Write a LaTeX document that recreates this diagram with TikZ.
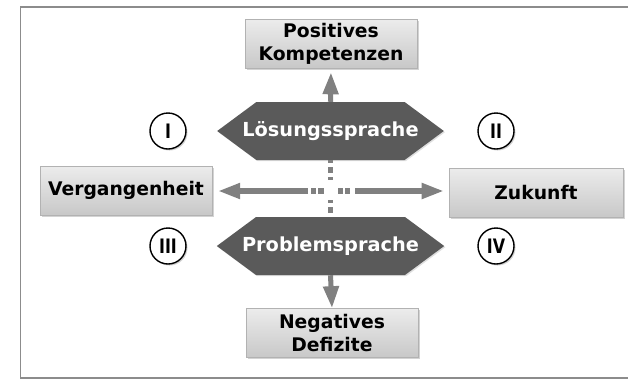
\documentclass[tikz,border=0pt]{standalone}
\usepackage{fontspec}
\setmainfont{DejaVu Sans}
\newfontfamily\romfont[FakeStretch=0.8]{DejaVu Sans}
\usetikzlibrary{arrows.meta, positioning, calc, shadows, shapes.symbols}
\newlength{\pxu}
\setlength{\pxu}{0.03cm}
\definecolor{sdark}{HTML}{5A5A5A}
\definecolor{sgray}{HTML}{808080}
\definecolor{sframe}{HTML}{8C8C8C}
\definecolor{boxtop}{HTML}{ECECEC}
\definecolor{boxbot}{HTML}{C8C8C8}
\tikzset{
  >=Latex,
  font=\fontsize{16}{19.5}\selectfont\bfseries,
  tile/.style={
    draw=black!30, line width=0.5pt, top color=boxtop, bottom color=boxbot,
    minimum width=172\pxu, minimum height=49\pxu, align=center, inner sep=0pt,
    drop shadow={shadow xshift=1.3pt, shadow yshift=-1.3pt, opacity=0.35}
  },
  lang/.style={
    signal, signal to=west and east, signal pointer angle=73,
    fill=sdark, text=white, inner ysep=0pt, inner xsep=-14\pxu,
    font=\fontsize{16.5}{19.5}\selectfont\bfseries,
    minimum width=100\pxu, minimum height=58\pxu,
    drop shadow={shadow xshift=1pt, shadow yshift=-1pt, opacity=0.25}
  },
  quad/.style={
    circle, draw=black, line width=1.2pt, fill=white, inner sep=0pt,
    minimum size=36\pxu, font=\fontsize{17}{17}\romfont\bfseries,
    drop shadow={shadow xshift=1.3pt, shadow yshift=-1.3pt, opacity=0.35}
  },
  bigarr/.style={draw=sgray, line width=4.3pt, -{Triangle[length=18.8pt, width=12.8pt]}},
  dotbar/.style={draw=sgray, line width=4.3pt, dash pattern=#1},
  frameline/.style={draw=sframe, line width=1.3pt}
}
\begin{document}
\begin{tikzpicture}[x=0.03cm, y=-0.03cm]
  \useasboundingbox (0,0) rectangle (628,379);
  \draw[frameline] (640,7) -- (20.5,7) -- (20.5,378) -- (640,378);

  % Sprache
  \node[lang] (loes) at (330.5,131) {Lösungssprache};
  \node[lang] (prob) at (330.5,246) {Problemsprache};

  % Pole
  \node[tile] (pos) at (331,43.5) {Positives\\Kompetenzen};
  \node[tile] (neg) at (332,333) {Negatives\\Defizite};
  \node[tile] (verg) at (126,190.5) {Vergangenheit};
  \node[tile,minimum width=174\pxu] (zuk) at (536,192.5) {Zukunft};

  % Quadranten
  \node[quad] (q1) at (168,131) {I};
  \node[quad] (q2) at (496,131) {II};
  \node[quad] (q3) at (168,246) {III};
  \node[quad] (q4) at (496,246) {IV};

  \coordinate (hl) at (308,191);
  \coordinate (hr) at (355,191);
  \draw[bigarr,shorten >=3.4pt] (loes.north) -- (pos.south);
  \draw[bigarr] (prob.south) -- (neg.north);
  \draw[bigarr,shorten >=5pt] (hl) -- (hl -| verg.east);
  \draw[bigarr,shorten >=4.3pt] (hr) -- (hr -| zuk.west);
  \draw[dotbar={on 4.3pt off 1.7pt on 5.1pt off 12pt on 4.3pt off 1.7pt on 4.3pt}]
    ($(hl)+(3,0)$) -- ($(hr)+(-5,0)$);
  \draw[dotbar={on 2.6pt off 3.4pt on 5.1pt off 3.4pt on 2.6pt off 17.1pt on 2.6pt off 3.4pt on 5.1pt off 4pt}]
    (loes.south) -- (prob.north);
\end{tikzpicture}
\end{document}
